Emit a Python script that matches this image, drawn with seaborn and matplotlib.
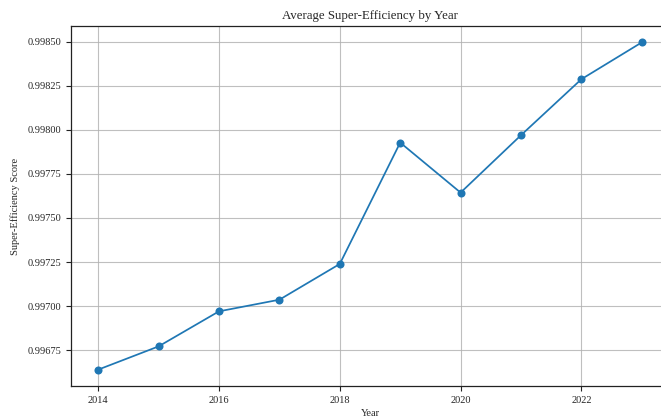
import matplotlib
matplotlib.use("Agg")
import matplotlib.pyplot as plt
from matplotlib.ticker import FormatStrFormatter
import seaborn as sns
import pandas as pd

# Average super-efficiency score per year
years = [2014, 2015, 2016, 2017, 2018, 2019, 2020, 2021, 2022, 2023]
scores = [0.996639, 0.996771, 0.996970, 0.997036, 0.997239,
          0.997928, 0.997644, 0.997970, 0.998288, 0.998497]

df = pd.DataFrame({"Year": years, "Score": scores})

sns.set_style("ticks")
plt.rcParams["font.family"] = ["Liberation Serif", "DejaVu Serif"]

W, H = 661, 416
fig = plt.figure(figsize=(W / 100, H / 100), dpi=100)
ax = fig.add_axes([71 / W, 1 - 386 / H, (669 - 71) / W, (386 - 26) / H])

sns.lineplot(data=df, x="Year", y="Score", ax=ax, color="#1f77b4",
             marker="o", markersize=5.8, markeredgecolor="#1f77b4",
             markeredgewidth=0, linewidth=1.25)

ax.grid(True, color="#b0b0b0", linewidth=0.8, alpha=0.8)
ax.set_axisbelow(True)
ax.yaxis.set_major_formatter(FormatStrFormatter("%.5f"))
ax.tick_params(labelsize=7.5, width=0.8, length=3.5, color="#222222")
for s in ax.spines.values():
    s.set_linewidth(0.9)
    s.set_color("#222222")
ax.spines["right"].set_visible(False)

ax.set_title("Average Super-Efficiency by Year", fontsize=9.3, pad=5)
ax.set_xlabel("Year", fontsize=7.5, labelpad=3)
ax.set_ylabel("Super-Efficiency Score", fontsize=7.5, labelpad=5)

fig.savefig("out.png", dpi=100)
